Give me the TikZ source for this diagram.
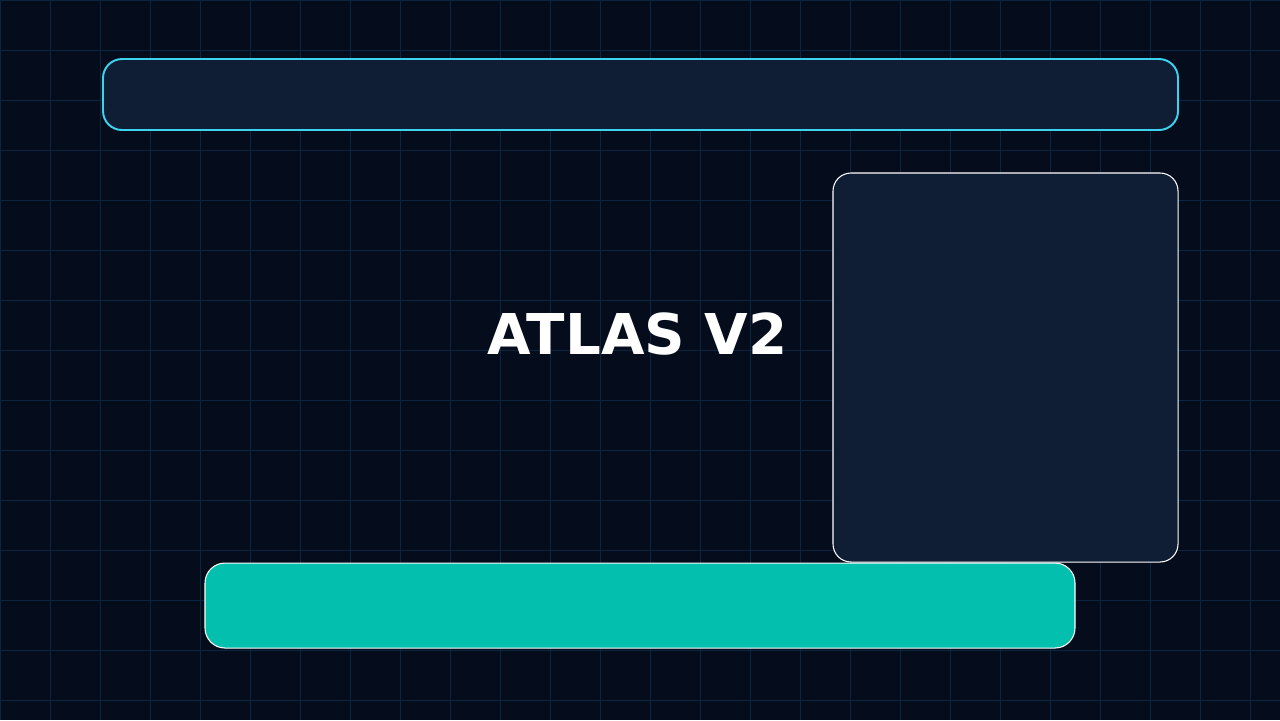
\documentclass[tikz,border=0pt]{standalone}
\usepackage{fontspec}
\setmainfont{DejaVu Sans}
\definecolor{bgdark}{HTML}{050C1B}
\definecolor{gridline}{HTML}{0B2540}
\definecolor{panelfill}{HTML}{101E35}
\definecolor{cyanedge}{HTML}{3DD3F0}
\definecolor{tealbar}{HTML}{02BFAE}
\begin{document}
\begin{tikzpicture}[x=0.01cm,y=-0.01cm]
			% Background and grid
			\fill[bgdark] (0,0) rectangle (1280,720);
			\useasboundingbox (0,0) rectangle (1280,720);
			\foreach \gx in {0,50,...,1250}
			\draw[gridline, line width=0.28pt] (\gx,0) -- (\gx,720);
			\foreach \gy in {0,50,...,700}
			\draw[gridline, line width=0.28pt] (0,\gy) -- (1280,\gy);
			
			% Top bar
			\draw[cyanedge, fill=panelfill, line width=0.55pt, rounded corners=0.19cm]
			(103,59) rectangle (1178,130);
			
			% Right panel
			\draw[white, fill=panelfill, line width=0.3pt, rounded corners=0.18cm]
			(833,173) rectangle (1178,562);
			
			% Bottom bar
			\draw[white, fill=tealbar, line width=0.3pt, rounded corners=0.2cm]
			(205,563) rectangle (1075,648);
			
			% Title
			\node[white, font=\bfseries\fontsize{16}{20}\selectfont] (title) at (637.5,334) {ATLAS V2};
			
		\end{tikzpicture}
\end{document}
